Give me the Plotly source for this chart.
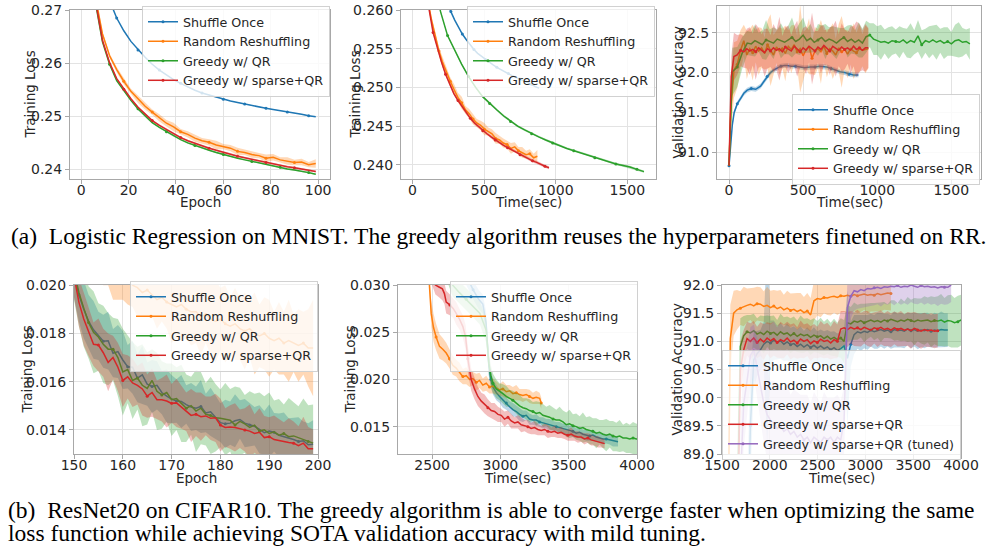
import plotly.graph_objects as go

W, H = 995, 546
C_SO, C_RR, C_QR, C_SP, C_TU = "#1f77b4", "#ff7f0e", "#2ca02c", "#d62728", "#9467bd"
NAMES = ["Shuffle Once", "Random Reshuffling", "Greedy w/ QR", "Greedy w/ sparse+QR"]

# ---------------- (a) Logistic regression on MNIST ----------------
epochs_a = [0, 3, 6, 9, 12, 15, 18, 21, 24, 27, 30, 33, 36, 39, 42, 45, 48, 51, 54, 57,
            60, 63, 66, 69, 72, 75, 78, 81, 84, 87, 90, 93, 96, 99]
loss_so_a = [0.3050, 0.2930, 0.2845, 0.2765, 0.2718, 0.2685, 0.2661, 0.2641, 0.2625, 0.2611,
             0.2598, 0.2587, 0.2578, 0.2569, 0.2562, 0.2555, 0.2549, 0.2544, 0.2540, 0.2536,
             0.2532, 0.2529, 0.2526, 0.2523, 0.2520, 0.2518, 0.2515, 0.2513, 0.2511, 0.2508,
             0.2506, 0.2504, 0.2501, 0.2499]
loss_rr_a = [0.3300, 0.3020, 0.2725, 0.2655, 0.2614, 0.2588, 0.2566, 0.2547, 0.2532, 0.2519,
             0.2508, 0.2497, 0.2487, 0.2480, 0.2471, 0.2466, 0.2459, 0.2454, 0.2451, 0.2446,
             0.2443, 0.2440, 0.2434, 0.2432, 0.2428, 0.2426, 0.2421, 0.2423, 0.2418, 0.2416,
             0.2413, 0.2414, 0.2409, 0.2411]
loss_qr_a = [0.3300, 0.3000, 0.2715, 0.2640, 0.2598, 0.2567, 0.2548, 0.2530, 0.2514, 0.2500,
             0.2488, 0.2479, 0.2471, 0.2463, 0.2456, 0.2450, 0.2445, 0.2440, 0.2436, 0.2432,
             0.2428, 0.2425, 0.2421, 0.2418, 0.2415, 0.2412, 0.2409, 0.2406, 0.2404, 0.2401,
             0.2399, 0.2397, 0.2394, 0.2391]
loss_sp_a = [0.3300, 0.3000, 0.2718, 0.2643, 0.2601, 0.2571, 0.2551, 0.2533, 0.2517, 0.2504,
             0.2492, 0.2483, 0.2475, 0.2467, 0.2460, 0.2454, 0.2449, 0.2444, 0.2440, 0.2436,
             0.2432, 0.2429, 0.2425, 0.2422, 0.2419, 0.2416, 0.2413, 0.2410, 0.2408, 0.2405,
             0.2403, 0.2401, 0.2398, 0.2396]
sd_rr_a = [0.0003, 0.0003, 0.0003, 0.0004, 0.0004, 0.0005, 0.0006, 0.0005, 0.0007, 0.0006,
           0.0005, 0.0007, 0.0006, 0.0008, 0.0005, 0.0006, 0.0007, 0.0005, 0.0006, 0.0008,
           0.0005, 0.0006, 0.0007, 0.0005, 0.0006, 0.0005, 0.0007, 0.0006, 0.0005, 0.0007,
           0.0005, 0.0006, 0.0005, 0.0008]
sd_so_a, sd_qr_a, sd_sp_a = 0.00005, 0.00015, 0.0002
time_so_a = [0, 27, 54, 80, 107, 134, 161, 188, 214, 241, 268, 295, 321, 348, 375, 402, 429,
             455, 482, 509, 536, 563, 589, 616, 643, 670, 697, 723, 750, 777, 804, 831, 857, 884]
time_rr_a = [0, 26, 53, 79, 106, 132, 159, 185, 211, 238, 264, 291, 317, 344, 370, 396, 423,
             449, 476, 502, 529, 555, 581, 608, 634, 661, 687, 714, 740, 766, 793, 819, 846, 872]
time_qr_a = [0, 49, 98, 147, 196, 245, 294, 343, 392, 441, 490, 539, 588, 637, 685, 734, 783,
             832, 881, 930, 979, 1028, 1077, 1126, 1175, 1224, 1273, 1322, 1371, 1420, 1469,
             1518, 1567, 1616]
time_sp_a = [0, 29, 58, 87, 116, 144, 173, 202, 231, 260, 289, 318, 347, 375, 404, 433, 462,
             491, 520, 549, 578, 607, 636, 664, 693, 722, 751, 780, 809, 838, 867, 896, 925, 953]

# validation accuracy (a)
t_so_v = [0, 10, 22, 35, 56, 80, 100, 123, 150, 180, 213, 240, 257, 280, 300, 325, 350, 375,
          392, 420, 450, 480, 510, 548, 580, 610, 640, 660, 690, 720, 750, 780, 810, 840, 873]
acc_so_v = [90.83, 91.10, 91.34, 91.50, 91.61, 91.68, 91.74, 91.78, 91.80, 91.79,
            91.83, 91.90, 91.95, 92.00, 92.03, 92.06, 92.08, 92.09, 92.09, 92.08,
            92.08, 92.07, 92.06, 92.07, 92.07, 92.08, 92.07, 92.07, 92.05, 92.03,
            92.01, 92.00, 91.98, 91.97, 91.97]
sd_so_v = 0.03
t_rr_v = [0, 11, 33, 55, 78, 100, 120, 140, 160, 180, 200, 220, 240, 260, 280, 300, 320, 340,
          360, 380, 400, 420, 440, 460, 480, 500, 520, 540, 560, 580, 600, 620, 640, 660, 680,
          700, 720, 740, 760, 780, 800, 820, 840, 860, 880, 900, 920, 940]
acc_rr_v = [90.83, 91.49, 92.03, 92.10, 92.28,
            92.40, 92.22, 92.30, 92.25, 92.33, 92.27, 92.31, 92.24, 92.35, 92.28,
            92.22, 92.32, 92.27, 92.30, 92.24, 92.33, 92.29, 92.35, 92.26, 92.30,
            92.21, 92.29, 92.33, 92.18, 92.27, 92.30, 92.26, 92.33, 92.24, 92.30,
            92.27, 92.22, 92.31, 92.26, 92.29, 92.23, 92.30, 92.27, 92.25, 92.30,
            92.28, 92.29, 92.30]
sd_rr_v = [0.02, 0.3, 0.35, 0.3, 0.25,
           0.2, 0.3, 0.25, 0.35, 0.2, 0.3, 0.25, 0.2, 0.3, 0.45,
           0.25, 0.2, 0.3, 0.25, 0.35, 0.2, 0.3, 0.25, 0.2, 0.55,
           0.3, 0.25, 0.35, 0.2, 0.3, 0.25, 0.4, 0.2, 0.3, 0.25,
           0.35, 0.2, 0.3, 0.45, 0.25, 0.3, 0.2, 0.35, 0.25, 0.3,
           0.2, 0.3, 0.25]
t_qr_v = [0, 22, 56, 90, 123,
          150, 175, 200, 225, 250, 275, 300, 325, 350, 375, 400, 425, 450, 475, 500, 525,
          550, 575, 600, 625, 650, 675, 700, 725, 750, 775, 800, 825, 850, 875, 900, 925,
          950, 975, 1000, 1025, 1050, 1075, 1100, 1125, 1150, 1175, 1200, 1225, 1250, 1275,
          1300, 1325, 1350, 1375, 1400, 1425, 1450, 1475, 1500, 1525, 1550, 1575, 1600, 1625]
acc_qr_v = [90.83, 92.01, 92.07, 92.25, 92.37,
            92.36, 92.40, 92.38, 92.35, 92.41, 92.39, 92.37, 92.42, 92.40, 92.38,
            92.41, 92.44, 92.39, 92.42, 92.47, 92.40, 92.43, 92.38, 92.41, 92.44,
            92.39, 92.42, 92.40, 92.37, 92.41, 92.44, 92.39, 92.42, 92.38, 92.41,
            92.37, 92.45, 92.47, 92.42, 92.40, 92.38, 92.39, 92.37, 92.40, 92.39,
            92.38, 92.41, 92.37, 92.40, 92.38, 92.46, 92.35, 92.40, 92.38, 92.41,
            92.38, 92.40, 92.37, 92.39, 92.36, 92.40, 92.41, 92.38, 92.39, 92.36]
sd_qr_v = [0.02, 0.3, 0.25, 0.2, 0.15,
           0.15, 0.2, 0.12, 0.18, 0.25, 0.15, 0.2, 0.12, 0.22, 0.15,
           0.18, 0.25, 0.15, 0.2, 0.22, 0.15, 0.18, 0.12, 0.2, 0.15,
           0.22, 0.15, 0.18, 0.2, 0.15, 0.12, 0.2, 0.18, 0.15, 0.22,
           0.18, 0.2, 0.15, 0.2, 0.18, 0.22, 0.15, 0.2, 0.18, 0.15,
           0.2, 0.15, 0.18, 0.22, 0.15, 0.2, 0.18, 0.15, 0.2, 0.18,
           0.22, 0.15, 0.2, 0.18, 0.15, 0.2, 0.22, 0.18, 0.15, 0.2]
t_sp_v = [0, 15, 33, 55, 78, 100, 120, 140, 160, 180, 200, 220, 240, 260, 280, 300, 320, 340,
          360, 380, 400, 420, 440, 460, 480, 500, 520, 540, 560, 580, 600, 620, 640, 660, 680,
          700, 720, 740, 760, 780, 800, 820, 840, 860, 880, 900, 920, 940]
acc_sp_v = [90.83, 91.95, 92.20, 92.22, 92.28,
            92.26, 92.30, 92.27, 92.29, 92.26, 92.31, 92.28, 92.25, 92.30, 92.27,
            92.31, 92.28, 92.30, 92.26, 92.32, 92.29, 92.27, 92.33, 92.30, 92.26,
            92.31, 92.28, 92.33, 92.30, 92.27, 92.32, 92.29, 92.34, 92.30, 92.27,
            92.33, 92.30, 92.28, 92.32, 92.29, 92.31, 92.28, 92.33, 92.29, 92.31,
            92.28, 92.31, 92.31]
sd_sp_v = [0.02, 0.25, 0.3, 0.25, 0.2,
           0.2, 0.25, 0.3, 0.2, 0.35, 0.25, 0.2, 0.3, 0.25, 0.2,
           0.3, 0.25, 0.4, 0.2, 0.25, 0.3, 0.2, 0.25, 0.35, 0.2,
           0.25, 0.3, 0.2, 0.45, 0.25, 0.2, 0.3, 0.25, 0.2, 0.3,
           0.25, 0.35, 0.2, 0.3, 0.25, 0.2, 0.3, 0.25, 0.35, 0.3,
           0.25, 0.3, 0.25]

# ---------------- (b) ResNet20 on CIFAR10 ----------------
epochs_b = list(range(150, 200))
loss_so_b = [0.02050, 0.01960, 0.01900, 0.01850, 0.01815, 0.01790, 0.01768, 0.01770, 0.01718, 0.01725,
             0.01690, 0.01662, 0.01660, 0.01615, 0.01628, 0.01590, 0.01580, 0.01585, 0.01555, 0.01540,
             0.01528, 0.01520, 0.01518, 0.01505, 0.01495, 0.01490, 0.01497, 0.01470, 0.01475, 0.01452,
             0.01430, 0.01425, 0.01428, 0.01438, 0.01443, 0.01428, 0.01420, 0.01415, 0.01402, 0.01388,
             0.01395, 0.01390, 0.01378, 0.01372, 0.01368, 0.01360, 0.01352, 0.01355, 0.01338, 0.01340]
loss_rr_b = [0.0240, 0.0232, 0.0226, 0.0221, 0.0217, 0.0214, 0.0211, 0.0209, 0.0206, 0.0204,
             0.0202, 0.0203, 0.0200, 0.0199, 0.0197, 0.0198, 0.0196, 0.0194, 0.0195, 0.0193,
             0.0192, 0.0191, 0.0192, 0.0190, 0.0189, 0.0189, 0.0187, 0.0188, 0.0186, 0.0185,
             0.0186, 0.0184, 0.0183, 0.0184, 0.0182, 0.0181, 0.0182, 0.0180, 0.0179, 0.0180,
             0.0178, 0.0177, 0.0178, 0.0176, 0.0177, 0.0176, 0.0175, 0.0176, 0.0174, 0.0174]
loss_qr_b = [0.02060, 0.01970, 0.01905, 0.01845, 0.01805, 0.01785, 0.01755, 0.01735, 0.01735, 0.01700,
             0.01640, 0.01650, 0.01605, 0.01615, 0.01585, 0.01572, 0.01605, 0.01560, 0.01545, 0.01555,
             0.01525, 0.01530, 0.01510, 0.01490, 0.01500, 0.01478, 0.01490, 0.01465, 0.01460, 0.01450,
             0.01448, 0.01445, 0.01440, 0.01420, 0.01435, 0.01425, 0.01410, 0.01420, 0.01395, 0.01400,
             0.01385, 0.01392, 0.01378, 0.01385, 0.01372, 0.01375, 0.01368, 0.01360, 0.01352, 0.01345]
loss_sp_b = [0.02040, 0.01930, 0.01860, 0.01805, 0.01755, 0.01752, 0.01720, 0.01680, 0.01700, 0.01660,
             0.01605, 0.01620, 0.01595, 0.01585, 0.01570, 0.01540, 0.01555, 0.01525, 0.01525, 0.01520,
             0.01510, 0.01512, 0.01495, 0.01475, 0.01460, 0.01465, 0.01455, 0.01458, 0.01448, 0.01450,
             0.01420, 0.01410, 0.01412, 0.01410, 0.01405, 0.01400, 0.01395, 0.01385, 0.01390, 0.01368,
             0.01372, 0.01360, 0.01355, 0.01352, 0.01348, 0.01345, 0.01335, 0.01345, 0.01322, 0.01322]
sd_so_b = [0.0010, 0.0011, 0.0012, 0.0011, 0.0012, 0.0010, 0.0011, 0.0012, 0.0010, 0.0011,
           0.0012, 0.0009, 0.0011, 0.0010, 0.0012, 0.0009, 0.0011, 0.0010, 0.0009, 0.0011,
           0.0010, 0.0009, 0.0011, 0.0008, 0.0010, 0.0009, 0.0011, 0.0008, 0.0010, 0.0009,
           0.0008, 0.0010, 0.0009, 0.0011, 0.0008, 0.0010, 0.0009, 0.0008, 0.0010, 0.0009,
           0.0011, 0.0008, 0.0009, 0.0010, 0.0008, 0.0009, 0.0010, 0.0008, 0.0009, 0.0010]
sd_rr_b = [0.0010, 0.0012, 0.0011, 0.0013, 0.0010, 0.0012, 0.0011, 0.0009, 0.0012, 0.0010,
           0.0008, 0.0011, 0.0009, 0.0012, 0.0010, 0.0011, 0.0009, 0.0012, 0.0010, 0.0011,
           0.0016, 0.0013, 0.0015, 0.0012, 0.0014, 0.0013, 0.0016, 0.0012, 0.0015, 0.0017,
           0.0013, 0.0016, 0.0012, 0.0015, 0.0013, 0.0016, 0.0012, 0.0017, 0.0013, 0.0015,
           0.0016, 0.0012, 0.0015, 0.0013, 0.0017, 0.0012, 0.0015, 0.0013, 0.0016, 0.0020]
sd_qr_b = [0.0012, 0.0014, 0.0016, 0.0015, 0.0017, 0.0014, 0.0016, 0.0015, 0.0013, 0.0016,
           0.0018, 0.0014, 0.0016, 0.0013, 0.0017, 0.0015, 0.0013, 0.0016, 0.0014, 0.0012,
           0.0015, 0.0013, 0.0016, 0.0014, 0.0012, 0.0017, 0.0015, 0.0013, 0.0016, 0.0014,
           0.0012, 0.0015, 0.0013, 0.0016, 0.0014, 0.0012, 0.0015, 0.0013, 0.0016, 0.0014,
           0.0017, 0.0013, 0.0015, 0.0012, 0.0016, 0.0014, 0.0013, 0.0017, 0.0015, 0.0016]
sd_sp_b = [0.0009, 0.0010, 0.0011, 0.0010, 0.0009, 0.0011, 0.0010, 0.0012, 0.0009, 0.0010,
           0.0011, 0.0009, 0.0010, 0.0008, 0.0011, 0.0009, 0.0010, 0.0008, 0.0009, 0.0011,
           0.0008, 0.0010, 0.0009, 0.0008, 0.0011, 0.0009, 0.0010, 0.0008, 0.0009, 0.0010,
           0.0011, 0.0008, 0.0009, 0.0010, 0.0008, 0.0009, 0.0011, 0.0008, 0.0010, 0.0009,
           0.0008, 0.0010, 0.0009, 0.0008, 0.0010, 0.0009, 0.0008, 0.0011, 0.0009, 0.0008]

# training loss vs time (b)
t_rr_l = [2470, 2480, 2493, 2510, 2529, 2554, 2578, 2603, 2627, 2651,
          2676, 2700, 2725, 2750, 2774, 2798, 2823, 2847, 2871, 2896,
          2920, 2945, 2969, 2994, 3018, 3043, 3067, 3091, 3116, 3140,
          3164, 3189, 3213, 3238, 3262, 3287, 3299]
l_rr_l = [0.0340, 0.0300, 0.0270, 0.0255, 0.0245, 0.0235, 0.0232, 0.0228, 0.0222, 0.0215,
          0.0212, 0.0208, 0.0203, 0.0204, 0.0200, 0.0201, 0.0197, 0.0199, 0.0194, 0.0196,
          0.0192, 0.0193, 0.0191, 0.0189, 0.0190, 0.0187, 0.0188, 0.0185, 0.0186, 0.0184,
          0.0183, 0.0184, 0.0182, 0.0180, 0.0181, 0.0180, 0.0175]
s_rr_l = [0.0010, 0.0012, 0.0014, 0.0015, 0.0014, 0.0013, 0.0012, 0.0011, 0.0010, 0.0010,
          0.0009, 0.0010, 0.0008, 0.0009, 0.0008, 0.0007, 0.0009, 0.0008, 0.0007, 0.0008,
          0.0007, 0.0008, 0.0007, 0.0006, 0.0008, 0.0007, 0.0006, 0.0007, 0.0008, 0.0006,
          0.0007, 0.0006, 0.0007, 0.0006, 0.0007, 0.0006, 0.0006]
t_sp_l = [2500, 2524, 2550, 2575, 2590, 2603, 2630, 2655, 2676, 2700,
          2725, 2745, 2761, 2786, 2810, 2835, 2860, 2884, 2908, 2933,
          2957, 2982, 3006, 3030, 3055, 3079, 3104, 3128, 3152, 3177,
          3201, 3225, 3250, 3274, 3299, 3323, 3347, 3372, 3396, 3420,
          3445, 3469, 3494, 3518, 3542, 3567, 3591, 3615, 3640, 3664,
          3689, 3713, 3737, 3763]
l_sp_l = [0.0310, 0.0300, 0.0298, 0.0296, 0.0291, 0.0282, 0.0279, 0.0275, 0.0270, 0.0264,
          0.0256, 0.0245, 0.0222, 0.0200, 0.0190, 0.0182, 0.0177, 0.0174, 0.0170, 0.0167,
          0.0166, 0.0163, 0.0162, 0.0158, 0.0160, 0.0156, 0.0154, 0.0155, 0.0152, 0.0151,
          0.0150, 0.0148, 0.0149, 0.0147, 0.0146, 0.0147, 0.0145, 0.0144, 0.0145, 0.0143,
          0.0144, 0.0142, 0.0141, 0.0142, 0.0140, 0.0139, 0.0139, 0.0137, 0.0138, 0.0136,
          0.0135, 0.0134, 0.0133, 0.0132]
s_sp_l = [0.0010, 0.0010, 0.0011, 0.0012, 0.0011, 0.0012, 0.0011, 0.0010, 0.0012, 0.0011,
          0.0012, 0.0013, 0.0014, 0.0012, 0.0011, 0.0010, 0.0009, 0.0010, 0.0009, 0.0008,
          0.0009, 0.0008, 0.0007, 0.0008, 0.0007, 0.0008, 0.0006, 0.0007, 0.0008, 0.0006,
          0.0007, 0.0006, 0.0007, 0.0006, 0.0005, 0.0006, 0.0007, 0.0005, 0.0006, 0.0005,
          0.0006, 0.0005, 0.0006, 0.0007, 0.0005, 0.0006, 0.0005, 0.0006, 0.0005, 0.0006,
          0.0005, 0.0006, 0.0005, 0.0005]
t_so_l = [2700, 2750, 2800, 2840, 2871, 2895, 2915, 2930, 2945, 2970,
          2994, 3018, 3043, 3067, 3091, 3116, 3140, 3165, 3189, 3213,
          3238, 3262, 3287, 3311, 3336, 3360, 3385, 3409, 3433, 3458,
          3482, 3506, 3531, 3555, 3580, 3604, 3628, 3653, 3677, 3702,
          3726, 3751, 3775, 3800, 3824, 3849, 3861]
l_so_l = [0.0330, 0.0310, 0.0295, 0.0285, 0.0280, 0.0260, 0.0215, 0.0200, 0.0192, 0.0186,
          0.0182, 0.0178, 0.0175, 0.0171, 0.0168, 0.0166, 0.0163, 0.0161, 0.0162, 0.0158,
          0.0157, 0.0157, 0.0155, 0.0154, 0.0153, 0.0152, 0.0151, 0.0150, 0.0149, 0.0148,
          0.0147, 0.0146, 0.0145, 0.0143, 0.0144, 0.0142, 0.0141, 0.0140, 0.0141, 0.0139,
          0.0138, 0.0137, 0.0137, 0.0136, 0.0135, 0.0134, 0.0134]
s_so_l = [0.0010, 0.0010, 0.0010, 0.0010, 0.0010, 0.0012, 0.0011, 0.0009, 0.0008, 0.0008,
          0.0007, 0.0008, 0.0007, 0.0006, 0.0007, 0.0006, 0.0007, 0.0006, 0.0005, 0.0006,
          0.0005, 0.0006, 0.0005, 0.0006, 0.0005, 0.0006, 0.0005, 0.0005, 0.0006, 0.0005,
          0.0006, 0.0005, 0.0006, 0.0005, 0.0006, 0.0005, 0.0006, 0.0005, 0.0006, 0.0005,
          0.0005, 0.0006, 0.0005, 0.0005, 0.0006, 0.0005, 0.0005]
t_qr_l = [2600, 2650, 2700, 2750, 2800, 2850, 2896, 2915, 2930, 2945,
          2970, 2994, 3018, 3043, 3067, 3091, 3116, 3140, 3165, 3189,
          3213, 3238, 3262, 3287, 3311, 3336, 3360, 3385, 3409, 3433,
          3458, 3482, 3506, 3531, 3555, 3580, 3604, 3628, 3653, 3677,
          3702, 3726, 3751, 3775, 3800, 3824, 3849, 3873, 3898, 3922,
          3947, 3971, 3996, 4020]
l_qr_l = [0.0320, 0.0300, 0.0292, 0.0285, 0.0278, 0.0270, 0.0252, 0.0217, 0.0204, 0.0196,
          0.0190, 0.0187, 0.0185, 0.0182, 0.0180, 0.0178, 0.0175, 0.0172, 0.0170, 0.0169,
          0.0167, 0.0166, 0.0164, 0.0165, 0.0162, 0.0161, 0.0160, 0.0158, 0.0157, 0.0157,
          0.0155, 0.0152, 0.0153, 0.0151, 0.0150, 0.0148, 0.0149, 0.0147, 0.0146, 0.0145,
          0.0143, 0.0144, 0.0142, 0.0141, 0.0142, 0.0140, 0.0139, 0.0140, 0.0138, 0.0138,
          0.0137, 0.0138, 0.0137, 0.0137]
s_qr_l = [0.0012, 0.0012, 0.0012, 0.0012, 0.0012, 0.0012, 0.0013, 0.0012, 0.0011, 0.0010,
          0.0010, 0.0009, 0.0010, 0.0011, 0.0009, 0.0010, 0.0011, 0.0012, 0.0010, 0.0011,
          0.0012, 0.0010, 0.0013, 0.0011, 0.0012, 0.0010, 0.0013, 0.0012, 0.0011, 0.0014,
          0.0012, 0.0013, 0.0015, 0.0012, 0.0014, 0.0013, 0.0016, 0.0013, 0.0015, 0.0014,
          0.0016, 0.0013, 0.0015, 0.0017, 0.0014, 0.0016, 0.0015, 0.0017, 0.0014, 0.0016,
          0.0015, 0.0017, 0.0016, 0.0016]

# validation accuracy vs time (b): shared time grid, each run covers a slice of it
t_grid_b = [1552, 1587, 1622, 1657, 1692, 1727, 1762, 1797, 1832, 1867,
            1902, 1937, 1972, 2007, 2042, 2077, 2112, 2147, 2182, 2217,
            2252, 2287, 2322, 2357, 2392, 2427, 2462, 2497, 2532, 2567,
            2602, 2637, 2672, 2707, 2742, 2777, 2812, 2847, 2882, 2917,
            2952, 2987, 3022, 3057, 3092, 3127, 3162, 3197, 3232, 3267,
            3302, 3337, 3372, 3407, 3442, 3477, 3512, 3547, 3582, 3617,
            3652, 3687, 3722, 3757, 3792, 3827, 3862, 3897, 3932, 3967, 4002]
start_rr_b, start_qr_b, start_sp_b, start_so_b, start_tu_b = 0, 3, 3, 6, 4
acc_rr_b = [86.0, 91.05, 91.50, 91.56, 91.59, 91.62, 91.64, 91.66, 91.63, 91.67,
            91.66, 91.62, 91.64, 91.60, 91.63, 91.58, 91.61, 91.56, 91.59, 91.55,
            91.57, 91.53, 91.56, 91.51, 91.54, 91.47, 91.72, 91.76, 91.75, 91.78,
            91.77, 91.79, 91.80, 91.78, 91.81, 91.80, 91.82, 91.80, 91.83, 91.81,
            91.82, 91.84, 91.82, 91.83, 91.82, 91.85, 91.83, 91.84, 91.86, 91.85]
sdacc_rr_b = [1.5, 0.6, 0.4, 0.35, 0.3, 0.35, 0.3, 0.28, 0.32, 0.3,
              0.3, 0.27, 0.33, 0.3, 0.28, 0.32, 0.3, 0.27, 0.31, 0.3,
              0.29, 0.33, 0.3, 0.28, 0.32, 0.3, 0.35, 0.3, 0.32, 0.28,
              0.3, 0.33, 0.29, 0.31, 0.3, 0.28, 0.32, 0.3, 0.29, 0.31,
              0.3, 0.28, 0.32, 0.3, 0.29, 0.31, 0.3, 0.28, 0.3, 0.3]
acc_qr_b = [87.5, 90.91, 91.10, 91.17, 91.15, 91.19, 91.13,
            91.16, 91.12, 91.18, 91.14, 91.16, 91.11, 91.17, 91.13, 91.15, 91.10,
            91.14, 91.09, 91.13, 91.10, 91.12, 91.07, 91.11, 91.08, 91.10, 91.05,
            91.09, 91.04, 91.07, 91.03, 91.06, 91.00, 91.33, 91.31, 91.36, 91.34,
            91.37, 91.33, 91.36, 91.38, 91.35, 91.37, 91.34, 91.38, 91.36, 91.39,
            91.37, 91.35, 91.38, 91.36, 91.39, 91.37, 91.35, 91.38, 91.36, 91.37,
            91.38, 91.35, 91.37, 91.36, 91.38, 91.34, 91.37, 91.36, 91.33, 91.35, 91.38]
sdacc_qr_b = [1.5, 0.5, 0.35, 0.3, 0.32, 0.3, 0.28,
              0.3, 0.33, 0.28, 0.31, 0.3, 0.27, 0.32, 0.3, 0.29, 0.31,
              0.3, 0.28, 0.33, 0.3, 0.29, 0.31, 0.3, 0.28, 0.32, 0.3,
              0.31, 0.29, 0.33, 0.3, 0.35, 0.38, 0.32, 0.3, 0.33, 0.31,
              0.3, 0.34, 0.32, 0.3, 0.33, 0.31, 0.35, 0.32, 0.3, 0.34,
              0.36, 0.33, 0.38, 0.35, 0.4, 0.37, 0.42, 0.38, 0.4, 0.43,
              0.4, 0.45, 0.42, 0.44, 0.46, 0.43, 0.45, 0.47, 0.44, 0.46, 0.45]
acc_sp_b = [87.0, 90.50, 90.85, 91.05, 91.00, 91.06, 90.98,
            91.04, 90.99, 91.06, 91.01, 91.05, 90.98, 91.03, 91.00, 91.06, 90.99,
            91.02, 90.97, 91.04, 91.00, 91.03, 90.96, 91.01, 90.98, 91.04, 91.00,
            91.02, 90.97, 91.03, 91.00, 91.22, 91.24, 91.21, 91.25, 91.22, 91.24,
            91.21, 91.25, 91.23, 91.20, 91.24, 91.22, 91.25, 91.21, 91.23, 91.20,
            91.24, 91.21, 91.23, 91.20, 91.22, 91.19, 91.23, 91.20, 91.18, 91.21,
            91.19, 91.20, 91.18, 91.19]
sdacc_sp_b = [1.5, 0.5, 0.35, 0.3, 0.32, 0.3, 0.28,
              0.3, 0.32, 0.28, 0.31, 0.3, 0.27, 0.32, 0.3, 0.29, 0.31,
              0.3, 0.28, 0.33, 0.3, 0.29, 0.31, 0.3, 0.28, 0.32, 0.3,
              0.31, 0.29, 0.33, 0.3, 0.32, 0.3, 0.31, 0.29, 0.3, 0.32,
              0.3, 0.29, 0.31, 0.3, 0.28, 0.32, 0.3, 0.29, 0.31, 0.3,
              0.29, 0.3, 0.31, 0.28, 0.3, 0.32, 0.29, 0.3, 0.31, 0.3,
              0.29, 0.3, 0.3, 0.3]
acc_so_b = [87.0, 89.5, 90.67, 90.78,
            90.85, 90.95, 91.00, 90.97, 91.02, 90.98, 91.01, 90.95, 90.99, 90.94,
            90.96, 90.91, 90.95, 90.90, 90.94, 90.89, 90.93, 90.88, 90.92, 90.87,
            90.90, 90.85, 90.89, 90.84, 90.87, 90.92, 90.70, 90.95, 91.12, 91.17,
            91.15, 91.18, 91.16, 91.20, 91.17, 91.19, 91.21, 91.18, 91.20, 91.17,
            91.21, 91.19, 91.20, 91.18, 91.22, 91.19, 91.21, 91.18, 91.20, 91.19,
            91.21, 91.18, 91.20, 91.19, 91.21, 91.20, 91.20]
sdacc_so_b = [1.5, 1.0, 0.5, 0.4,
              0.35, 0.4, 1.8, 0.4, 0.35, 0.3, 0.32, 0.3, 0.33, 0.3,
              0.31, 0.3, 0.32, 0.29, 0.31, 0.3, 0.32, 0.3, 0.29, 0.31,
              0.3, 0.32, 0.29, 0.3, 0.31, 0.3, 1.2, 0.4, 0.35, 0.3,
              0.32, 0.3, 0.31, 0.29, 0.3, 0.32, 0.3, 0.31, 0.29, 0.3,
              0.32, 0.3, 0.31, 0.3, 0.29, 0.31, 0.3, 0.32, 0.3, 0.31,
              0.3, 0.29, 0.31, 0.3, 0.32, 0.3, 0.3]
acc_tu_b = [88.5, 89.9, 90.3, 90.75, 90.85, 90.55,
            90.2, 89.9, 89.7, 89.6, 89.55, 89.45, 89.5, 89.4, 89.45, 89.35,
            89.4, 89.3, 89.35, 89.25, 89.3, 89.2, 89.3, 89.25, 89.2, 89.3,
            89.25, 89.3, 89.2, 89.3, 89.25, 89.6, 91.60, 91.80, 91.90, 91.88,
            91.92, 91.90, 91.94, 91.93, 91.95, 91.96, 91.94, 91.97, 91.96, 91.98,
            91.97, 91.99, 91.96, 91.98, 91.97, 92.00, 91.98, 91.96, 91.99, 91.97,
            91.98, 91.96, 91.97, 91.95, 91.97, 91.96, 91.96, 92.00]
sdacc_tu_b = [1.0, 0.8, 0.6, 0.5, 0.45, 0.5,
              0.6, 0.7, 0.8, 0.7, 0.75, 0.8, 0.7, 0.75, 0.8, 0.7,
              0.75, 0.8, 0.7, 0.8, 0.75, 0.7, 0.8, 0.75, 0.7, 0.8,
              0.75, 0.7, 0.8, 0.75, 0.7, 0.6, 0.5, 0.4, 0.35, 0.3,
              0.32, 0.3, 0.33, 0.3, 0.31, 0.3, 0.32, 0.3, 0.31, 0.3,
              0.33, 0.3, 0.31, 0.3, 0.32, 0.3, 0.31, 0.3, 0.3, 0.32,
              0.3, 0.31, 0.3, 0.32, 0.3, 0.31, 0.3, 0.3]

# ---------------- text ----------------
CAPTION_A = "(a)\u00a0 Logistic Regression on MNIST. The greedy algorithm reuses the hyperparameters finetuned on RR."
CAPTION_B1 = "(b)\u00a0 ResNet20 on CIFAR10. The greedy algorithm is able to converge faster when optimizing the same"
CAPTION_B2 = "loss function while achieving SOTA validation accuracy with mild tuning."

# ---------------- figure ----------------
fig = go.Figure()


def rgba(hexc, a):
    h = hexc.lstrip("#")
    return "rgba(%d,%d,%d,%.2f)" % (int(h[0:2], 16), int(h[2:4], 16), int(h[4:6], 16), a)


def add_series(i, x, m, s, color, name, legend):
    x = list(x)
    assert len(x) == len(m), (name, i, len(x), len(m))
    if not isinstance(s, (int, float)):
        assert len(s) == len(m), (name, i, "sd", len(s), len(m))
        sd = list(s)
    else:
        sd = [s] * len(m)
    up = [a + b for a, b in zip(m, sd)]
    lo = [a - b for a, b in zip(m, sd)]
    ax = "" if i == 1 else str(i)
    fig.add_trace(go.Scatter(x=x + x[::-1], y=up + lo[::-1], fill="toself", mode="lines",
                             fillcolor=rgba(color, 0.3), line=dict(width=0, color=rgba(color, 0)),
                             hoverinfo="skip", showlegend=False, xaxis="x" + ax, yaxis="y" + ax))
    fig.add_trace(go.Scatter(x=x, y=m, mode="lines+markers", name=name,
                             line=dict(color=color, width=1.5),
                             marker=dict(size=3, color=color, maxdisplayed=10),
                             legend=legend, xaxis="x" + ax, yaxis="y" + ax))


# panel 1
add_series(1, epochs_a, loss_so_a, sd_so_a, C_SO, NAMES[0], "legend")
add_series(1, epochs_a, loss_rr_a, sd_rr_a, C_RR, NAMES[1], "legend")
add_series(1, epochs_a, loss_qr_a, sd_qr_a, C_QR, NAMES[2], "legend")
add_series(1, epochs_a, loss_sp_a, sd_sp_a, C_SP, NAMES[3], "legend")
# panel 2
add_series(2, time_so_a, loss_so_a, sd_so_a, C_SO, NAMES[0], "legend2")
add_series(2, time_rr_a, loss_rr_a, sd_rr_a, C_RR, NAMES[1], "legend2")
add_series(2, time_qr_a, loss_qr_a, sd_qr_a, C_QR, NAMES[2], "legend2")
add_series(2, time_sp_a, loss_sp_a, sd_sp_a, C_SP, NAMES[3], "legend2")
# panel 3
add_series(3, t_so_v, acc_so_v, sd_so_v, C_SO, NAMES[0], "legend3")
add_series(3, t_rr_v, acc_rr_v, sd_rr_v, C_RR, NAMES[1], "legend3")
add_series(3, t_qr_v, acc_qr_v, sd_qr_v, C_QR, NAMES[2], "legend3")
add_series(3, t_sp_v, acc_sp_v, sd_sp_v, C_SP, NAMES[3], "legend3")
# panel 4
add_series(4, epochs_b, loss_so_b, sd_so_b, C_SO, NAMES[0], "legend4")
add_series(4, epochs_b, loss_rr_b, sd_rr_b, C_RR, NAMES[1], "legend4")
add_series(4, epochs_b, loss_qr_b, sd_qr_b, C_QR, NAMES[2], "legend4")
add_series(4, epochs_b, loss_sp_b, sd_sp_b, C_SP, NAMES[3], "legend4")
# panel 5
add_series(5, t_so_l, l_so_l, s_so_l, C_SO, NAMES[0], "legend5")
add_series(5, t_rr_l, l_rr_l, s_rr_l, C_RR, NAMES[1], "legend5")
add_series(5, t_qr_l, l_qr_l, s_qr_l, C_QR, NAMES[2], "legend5")
add_series(5, t_sp_l, l_sp_l, s_sp_l, C_SP, NAMES[3], "legend5")
# panel 6


def grid_slice(start, vals):
    return t_grid_b[start:start + len(vals)]


add_series(6, grid_slice(start_so_b, acc_so_b), acc_so_b, sdacc_so_b, C_SO, NAMES[0], "legend6")
add_series(6, grid_slice(start_rr_b, acc_rr_b), acc_rr_b, sdacc_rr_b, C_RR, NAMES[1], "legend6")
add_series(6, grid_slice(start_qr_b, acc_qr_b), acc_qr_b, sdacc_qr_b, C_QR, NAMES[2], "legend6")
add_series(6, grid_slice(start_sp_b, acc_sp_b), acc_sp_b, sdacc_sp_b, C_SP, NAMES[3], "legend6")
add_series(6, grid_slice(start_tu_b, acc_tu_b), acc_tu_b, sdacc_tu_b, C_TU,
           "Greedy w/ sparse+QR (tuned)", "legend6")

FONT = "DejaVu Sans"
TXT = "#262626"


# window pixel -> paper fraction
def px(x):
    return x / W


def py(y):
    return 1 - y / H


def axis(dom, rng, tickvals, fmt, anchor, is_x):
    d = dict(domain=dom, range=rng, tickvals=tickvals, tickformat=fmt, anchor=anchor,
             showline=True, linecolor="#a8a8a8", linewidth=1, mirror=True,
             ticks="outside", ticklen=4, tickcolor="#a8a8a8", showgrid=True,
             gridcolor="#e3e3e3", gridwidth=1, zeroline=False, fixedrange=True,
             automargin=False, ticklabeloverflow="allow",
             tickfont=dict(family=FONT, size=14, color=TXT))
    if is_x:
        d["ticklabelstandoff"] = -6
    return d


# panel boxes in window pixels: (left, right, top, bottom)
boxes = {1: (70, 330, 10, 179), 2: (401, 656, 10, 179), 3: (717, 981, 6, 179),
         4: (74, 318, 285, 454), 5: (398, 637, 285, 454), 6: (722, 961, 285, 454)}
xcfg = {1: ([-4.7, 105], [0, 20, 40, 60, 80, 100], "d"),
        2: ([-80, 1700], [0, 500, 1000, 1500], "d"),
        3: ([-81, 1700], [0, 500, 1000, 1500], "d"),
        4: ([150, 200], [150, 160, 170, 180, 190, 200], "d"),
        5: ([2250, 4000], [2500, 3000, 3500, 4000], "d"),
        6: ([1500, 4000], [1500, 2000, 2500, 3000, 3500, 4000], "d")}
ycfg = {1: ([0.2382, 0.27001], [0.24, 0.25, 0.26, 0.27], ".2f"),
        2: ([0.23815, 0.26001], [0.240, 0.245, 0.250, 0.255, 0.260], ".3f"),
        3: ([90.665, 92.835], [91.0, 91.5, 92.0, 92.5], ".1f"),
        4: ([0.013, 0.02001], [0.014, 0.016, 0.018, 0.020], ".3f"),
        5: ([0.0121, 0.03001], [0.015, 0.020, 0.025, 0.030], ".3f"),
        6: ([89.0, 92.001], [89.0, 89.5, 90.0, 90.5, 91.0, 91.5, 92.0], ".1f")}

layout = dict(width=W, height=H, margin=dict(l=0, r=0, t=0, b=0, pad=0, autoexpand=False),
              paper_bgcolor="white", plot_bgcolor="white",
              font=dict(family=FONT, size=13, color=TXT), hovermode=False)
for i in range(1, 7):
    l, r, t, b = boxes[i]
    s = "" if i == 1 else str(i)
    layout["xaxis" + s] = axis([px(l), px(r)], *xcfg[i], anchor="y" + s, is_x=True)
    layout["yaxis" + s] = axis([py(b), py(t)], *ycfg[i], anchor="x" + s, is_x=False)


def legend_at(x, y):
    return dict(x=px(x), y=py(y), xanchor="left", yanchor="top",
                bgcolor="rgba(255,255,255,0.8)", bordercolor="rgba(204,204,204,0.9)",
                borderwidth=1, font=dict(family=FONT, size=12.7, color=TXT),
                tracegroupgap=0, itemwidth=30)


layout["legend"] = legend_at(142, 6)
layout["legend2"] = legend_at(467, 6)
layout["legend3"] = legend_at(792, 94)
layout["legend4"] = legend_at(130, 281)
layout["legend5"] = legend_at(450, 281)
layout["legend6"] = legend_at(722, 350)

ann = []
xtitles = {1: ("Epoch", 202), 2: ("Time(sec)", 202), 3: ("Time(sec)", 202),
           4: ("Epoch", 478), 5: ("Time(sec)", 478), 6: ("Time(sec)", 478)}
ytitles = {1: ("Training Loss", 29), 2: ("Training Loss", 354), 3: ("Validation Accuracy", 677),
           4: ("Training Loss", 26), 5: ("Training Loss", 349), 6: ("Validation Accuracy", 676)}
for i in range(1, 7):
    l, r, t, b = boxes[i]
    txt, yy = xtitles[i]
    ann.append(dict(text=txt, x=px((l + r) / 2), y=py(yy), xref="paper", yref="paper",
                    xanchor="center", yanchor="middle", showarrow=False,
                    font=dict(family=FONT, size=13.5, color=TXT)))
    txt, xx = ytitles[i]
    ann.append(dict(text=txt, x=px(xx), y=py((t + b) / 2), xref="paper", yref="paper",
                    xanchor="center", yanchor="middle", showarrow=False, textangle=-90,
                    font=dict(family=FONT, size=13.5, color=TXT)))

SERIF = "Liberation Serif"
CAP = 23.5
ann.append(dict(text=CAPTION_A, x=px(498.5), y=py(236), xref="paper", yref="paper",
                xanchor="center", yanchor="middle", showarrow=False,
                font=dict(family=SERIF, size=CAP, color="black")))
ann.append(dict(text=CAPTION_B1, x=px(6), y=py(510), xref="paper", yref="paper",
                xanchor="left", yanchor="middle", showarrow=False,
                font=dict(family=SERIF, size=CAP, color="black")))
ann.append(dict(text=CAPTION_B2, x=px(6), y=py(533), xref="paper", yref="paper",
                xanchor="left", yanchor="middle", showarrow=False,
                font=dict(family=SERIF, size=CAP, color="black")))
layout["annotations"] = ann

fig.update_layout(**layout)
# the page's default 8px body margin would shift the 995x546 figure inside the window
fig.write_html("out.html", config={"displayModeBar": False},
               post_script="document.body.style.margin='0px';")
